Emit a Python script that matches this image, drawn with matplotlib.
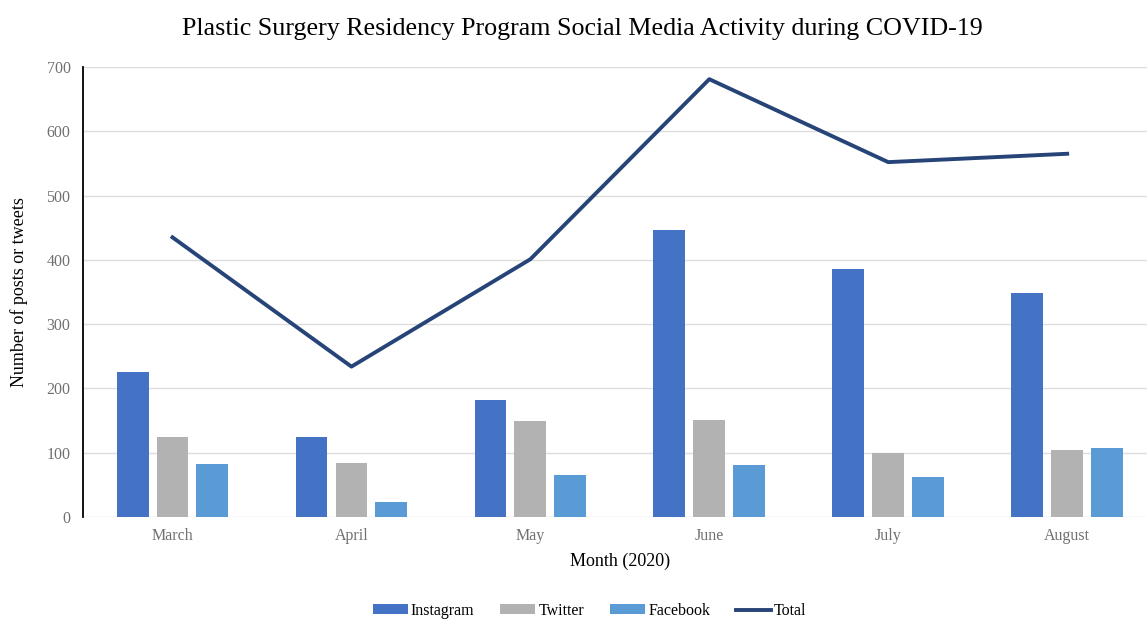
import numpy as np
import matplotlib.pyplot as plt

# data
months = ['March', 'April', 'May', 'June', 'July', 'August']
instagram = [225, 124, 182, 446, 386, 349]
twitter = [125, 84, 149, 151, 100, 104]
facebook = [83, 23, 65, 81, 63, 107]
total = [435, 234, 401, 681, 552, 565]

plt.rcParams['font.family'] = ['Liberation Serif', 'DejaVu Serif']

fig = plt.figure(figsize=(11.47, 6.2), dpi=100)
ax = fig.add_axes([0.0724, 0.166, 0.936, 0.726])

x = np.arange(len(months))
w = 0.178
off = 0.223
ax.bar(x - off, instagram, w, color='#4472C4', label='Instagram', zorder=3)
ax.bar(x, twitter, w, color='#B2B2B2', label='Twitter', zorder=3)
ax.bar(x + off, facebook, w, color='#5B9BD5', label='Facebook', zorder=3)
ax.plot(x, total, color='#264478', lw=2.8, label='Total', zorder=4)

ax.set_xlim(-0.5, 5.5)
ax.set_ylim(0, 700)
ax.set_yticks(range(0, 701, 100))
ax.set_xticks(x)
ax.set_xticklabels(months)
ax.yaxis.grid(True, color='#DDDDDD', lw=1, zorder=0)
ax.tick_params(length=0, labelsize=11.5, colors='#707070', pad=9)
ax.tick_params(axis='x', pad=8)

for s in ['top', 'right', 'bottom']:
    ax.spines[s].set_visible(False)
ax.spines['left'].set_color('black')
ax.spines['left'].set_linewidth(1.3)

ax.set_xlabel('Month (2020)', fontsize=13, labelpad=6)
ax.set_ylabel('Number of posts or tweets', fontsize=13, labelpad=13)
fig.text(0.508, 0.953, 'Plastic Surgery Residency Program Social Media Activity during COVID-19',
         ha='center', va='center', fontsize=18.7)

h, l = ax.get_legend_handles_labels()
order = [1, 2, 3, 0]
fig.legend([h[i] for i in order], [l[i] for i in order],
           loc='center', bbox_to_anchor=(0.514, 0.015), ncol=4, frameon=False,
           fontsize=11.5, handlelength=2.2, handleheight=0.5, columnspacing=1.6,
           handletextpad=0.2)

fig.savefig('out.png', dpi=100)
